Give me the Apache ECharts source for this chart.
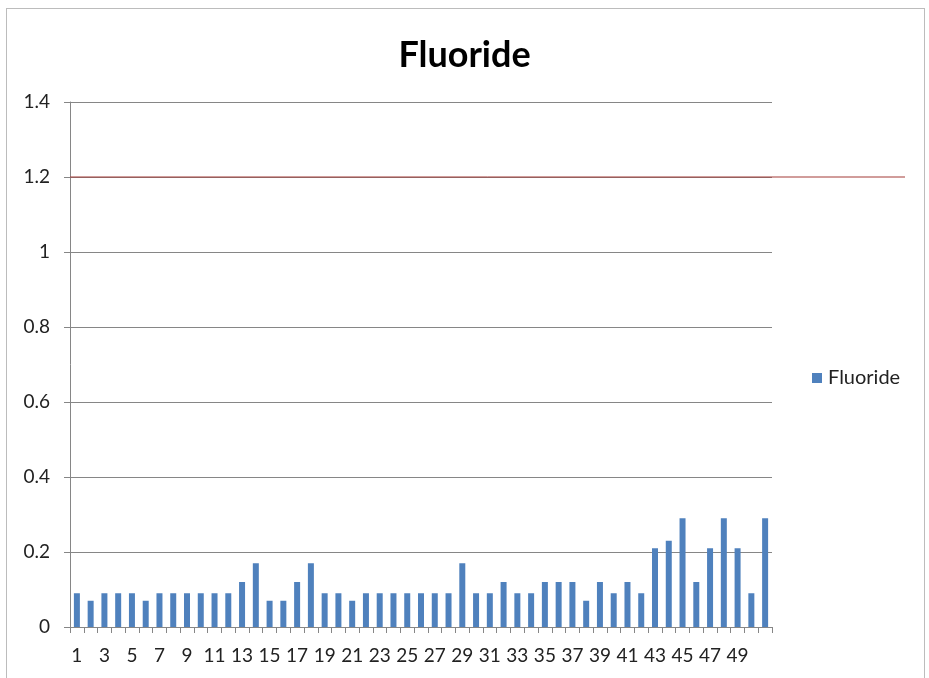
<!DOCTYPE html>
<html>
<head>
<meta charset="utf-8">
<script src="https://cdn.jsdelivr.net/npm/echarts@6/dist/echarts.min.js"></script>
<style>
html,body{margin:0;padding:0;background:#fff;}
#frame{position:absolute;left:6px;top:8px;width:919px;height:680px;border:1.5px solid #bcbcbc;box-sizing:border-box;}
#chart{position:absolute;left:0;top:0;width:929px;height:678px;}
</style>
</head>
<body>
<div id="frame"></div>
<div id="chart"></div>
<script>
const categories = ['1','2','3','4','5','6','7','8','9','10','11','12','13','14','15','16','17','18','19','20','21','22','23','24','25','26','27','28','29','30','31','32','33','34','35','36','37','38','39','40','41','42','43','44','45','46','47','48','49','50',''];
const fluoride = [0.09,0.07,0.09,0.09,0.09,0.07,0.09,0.09,0.09,0.09,0.09,0.09,0.12,0.17,0.07,0.07,0.12,0.17,0.09,0.09,0.07,0.09,0.09,0.09,0.09,
                  0.09,0.09,0.09,0.17,0.09,0.09,0.12,0.09,0.09,0.12,0.12,0.12,0.07,0.12,0.09,0.12,0.09,0.21,0.23,0.29,0.12,0.21,0.29,0.21,0.09,0.29];
const limitX = [0, 1];
const limitY = [1.2, 1.2];
const yTicks = [0, 0.2, 0.4, 0.6, 0.8, 1, 1.2, 1.4];

const chart = echarts.init(document.getElementById('chart'), null, {renderer:'canvas'});
const font = 'Lato';
chart.setOption({
  animation:false,
  title:{text:'Fluoride', left:'center', top:32, textStyle:{fontFamily:font, fontWeight:'bold', fontSize:36, color:'#000'}},
  legend:{data:['Fluoride'], left:812, top:368, padding:0, orient:'vertical', itemWidth:10, itemHeight:10, itemGap:5,
          icon:'rect', textStyle:{fontFamily:font, fontSize:20, color:'#222', padding:[0,0,0,1]}},
  grid:[{left:70, right:157, top:102, bottom:51, containLabel:false},
        {left:70, right:24, top:102, bottom:51, containLabel:false}],
  xAxis:[{type:'category', data:categories, gridIndex:0,
          axisLine:{lineStyle:{color:'#868686'}},
          axisTick:{show:true, length:6, alignWithLabel:false, interval:0, lineStyle:{color:'#868686'}},
          axisLabel:{interval:1, fontFamily:font, fontSize:19, color:'#222', margin:19}},
         {type:'value', gridIndex:1, min:0, max:1, show:false}],
  yAxis:[{type:'value', gridIndex:0, min:0, max:1.4, interval:0.2,
          axisLine:{show:true, lineStyle:{color:'#868686'}},
          axisTick:{show:true, length:6, lineStyle:{color:'#868686'}},
          splitLine:{lineStyle:{color:'#868686'}},
          axisLabel:{fontFamily:font, fontSize:19, color:'#222', margin:20,
                     formatter:v=>{const t=yTicks.find(x=>Math.abs(x-v)<1e-9); return t===undefined?'':String(t);}}},
         {type:'value', gridIndex:1, min:0, max:1.4, show:false}],
  series:[
    {name:'Fluoride', type:'bar', xAxisIndex:0, yAxisIndex:0, data:fluoride, barWidth:6,
     itemStyle:{color:'#4F81BD'}},
    {name:'limit', type:'line', xAxisIndex:1, yAxisIndex:1, data:limitX.map((x,i)=>[x,limitY[i]]),
     symbol:'none', lineStyle:{color:'#A33A37', width:1}, silent:true}
  ]
});
</script>
</body>
</html>
